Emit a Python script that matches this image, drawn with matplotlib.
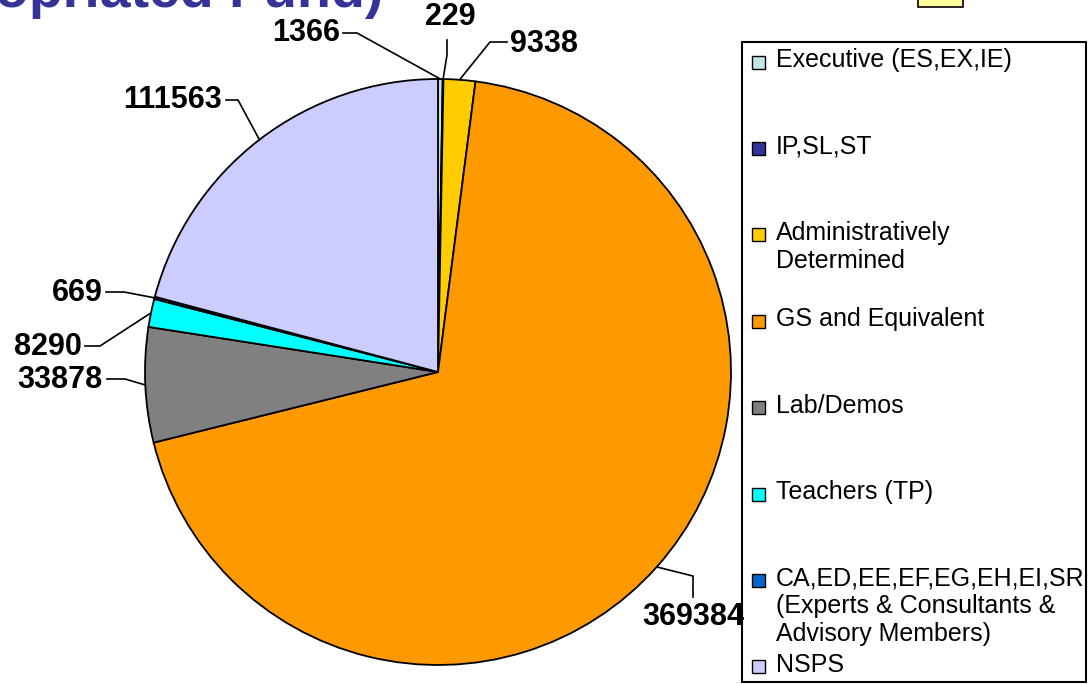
import numpy as np
import matplotlib.pyplot as plt
from matplotlib.patches import Rectangle

plt.rcParams['font.family'] = ['Liberation Sans', 'DejaVu Sans']

# Data
categories = ['Executive (ES,EX,IE)', 'IP,SL,ST', 'Administratively\nDetermined',
              'GS and Equivalent', 'Lab/Demos', 'Teachers (TP)',
              'CA,ED,EE,EF,EG,EH,EI,SR\n(Experts & Consultants &\nAdvisory Members)',
              'NSPS']
values = [1366, 229, 9338, 369384, 33878, 8290, 669, 111563]
colors = ['#C0E6E6', '#333399', '#FFCC00', '#FF9900', '#808080', '#00FFFF',
          '#0066CC', '#CCCCFF']

W, H = 1089, 684
fig = plt.figure(figsize=(W / 100, H / 100), dpi=100)
ax = fig.add_axes([0, 0, 1, 1])

# pie placed in pixel units (y measured from the bottom)
cx, cy, R = 438, 372, 293
wedges, _ = ax.pie(values, colors=colors, startangle=90, counterclock=False,
                   center=(cx, H - cy), radius=R,
                   wedgeprops=dict(edgecolor='black', linewidth=1.3))
ax.set_xlim(0, W)
ax.set_ylim(0, H)
ax.set_aspect('auto')
ax.axis('off')

# data label layout: text pos, alignment, leader start, elbow (image px)
label_layout = [
    (340, 33, 'right', (343, 33), (357, 33)),
    (450, 17, 'center', (447, 40), (447, 55)),
    (510, 44, 'left', (507, 42), (490, 42)),
    (693, 617, 'center', (693, 597), (693, 576)),
    (103, 380, 'right', (107, 379), (125, 379)),
    (82, 347, 'right', (85, 346), (100, 346)),
    (103, 293, 'right', (106, 292), (124, 292)),
    (222, 100, 'right', (226, 100), (238, 100)),
]

for w, v, (tx, ty, ha, p0, p1) in zip(wedges, values, label_layout):
    mid = np.deg2rad((w.theta1 + w.theta2) / 2)
    ax_x = cx + R * np.cos(mid)
    ax_y = (H - cy) + R * np.sin(mid)
    ax.plot([p0[0], p1[0], ax_x], [H - p0[1], H - p1[1], ax_y],
            color='black', lw=1.2)
    ax.text(tx, H - ty, str(v), ha=ha, va='center', fontsize=22,
            fontweight='bold', color='black')

# title (cut off at the top of the image)
ax.text(383, H - 7, '(Appropriated Fund)', ha='right', va='baseline',
        fontsize=40, fontweight='bold', color='#333399')

# small yellow box peeking at the top right
ax.add_patch(Rectangle((918, H - 7), 45, 12, facecolor='#FFFF99',
                       edgecolor='black', lw=1.2, clip_on=False))

# legend
ax.add_patch(Rectangle((742, H - 682), 344, 640, fill=False,
                       edgecolor='black', lw=1.5))
for k, (lab, col) in enumerate(zip(categories, colors)):
    sy = 62 + k * 86.4
    ax.add_patch(Rectangle((752, H - sy - 6.5), 13, 13, facecolor=col,
                           edgecolor='black', lw=1))
    ax.text(776, H - sy + 14, lab, ha='left', va='top', fontsize=18,
            color='black', linespacing=1.2)

fig.savefig('out.png', dpi=100)
